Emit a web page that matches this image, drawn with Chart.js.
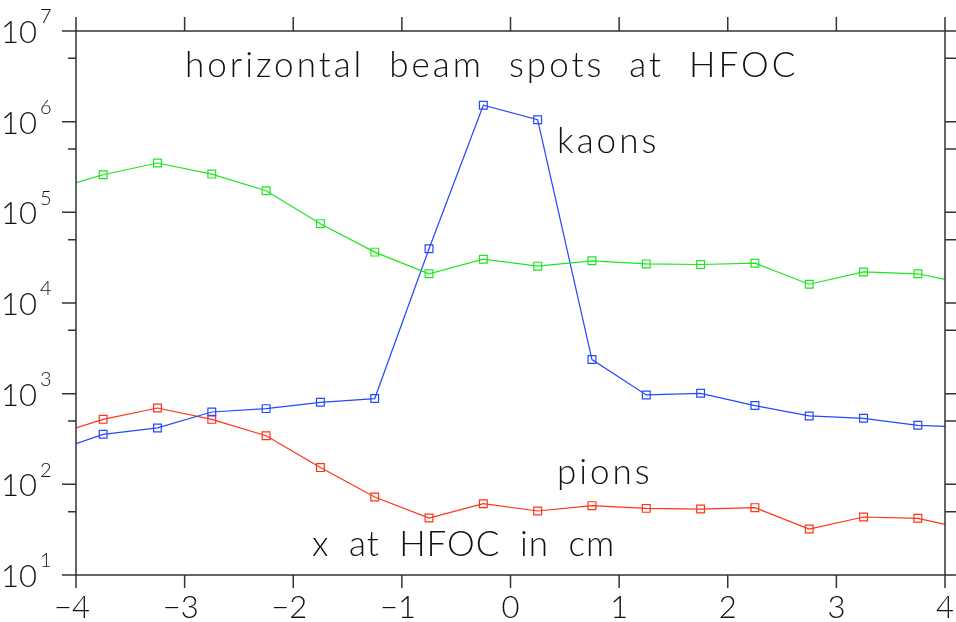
<!DOCTYPE html>
<html>
<head>
<meta charset="utf-8">
<script src="https://cdn.jsdelivr.net/npm/chart.js@4"></script>
<style>
  html, body { margin: 0; padding: 0; background: #fff; }
  #wrap { width: 956px; height: 622px; }
</style>
</head>
<body>
<div id="wrap"><canvas id="myChart" width="956" height="622"></canvas></div>
<script>
// x positions (cm at HFOC); the end values sit on the frame and carry no marker
const xPos = [-4, -3.75, -3.25, -2.75, -2.25, -1.75, -1.25, -0.75, -0.25,
  0.25, 0.75, 1.25, 1.75, 2.25, 2.75, 3.25, 3.75, 4];

// green curve (no label in the picture)
const greenVals = [2.12e5, 2.6e5, 3.5e5, 2.64e5, 1.73e5, 7.5e4, 3.64e4, 2.1e4, 3.04e4,
  2.55e4, 2.92e4, 2.7e4, 2.66e4, 2.75e4, 1.61e4, 2.2e4, 2.1e4, 1.82e4];
// kaons (blue)
const kaonVals = [281, 356, 419, 628, 684, 803, 883, 3.96e4, 1.52e6,
  1.05e6, 2377, 968, 1009, 739, 568, 535, 448, 436];
// pions (red)
const pionVals = [419, 521, 695, 521, 344, 153, 72.4, 42.5, 61.2,
  50.8, 58.2, 54.3, 53.4, 55.3, 32.1, 43.6, 42.2, 36.1];

const xTicks = [-4, -3, -2, -1, 0, 1, 2, 3, 4];
const yExp = [1, 2, 3, 4, 5, 6, 7];
const yMinor = [50, 500, 5000, 5e4, 5e5, 5e6];

const FONT = '"Lato", "DejaVu Sans", sans-serif';

function pts(vals) {
  return vals.map(function (v, i) { return { x: xPos[i], y: v }; });
}
function radii() {
  return xPos.map(function (x, i) { return (i == 0 || i == xPos.length - 1) ? 0 : 5.5; });
}
function makeSet(label, vals, color) {
  return {
    label: label,
    data: pts(vals),
    borderColor: color,
    backgroundColor: 'transparent',
    borderWidth: 1.2,
    pointStyle: 'rect',
    pointRadius: radii(),
    pointBorderWidth: 1.2,
    pointBorderColor: color,
    tension: 0
  };
}

// frame, ticks and texts drawn from the scales
var frame = {
  id: 'frame',
  afterDraw: function (chart) {
    var ctx = chart.ctx;
    var a = chart.chartArea;
    var xs = chart.scales.x, ys = chart.scales.y;
    ctx.save();
    ctx.strokeStyle = '#333';
    ctx.lineWidth = 1.5;
    ctx.strokeRect(a.left, a.top, a.right - a.left, a.bottom - a.top);

    ctx.beginPath();
    xTicks.forEach(function (t) {
      var px = xs.getPixelForValue(t);
      ctx.moveTo(px, a.top); ctx.lineTo(px, a.top - 14);
      ctx.moveTo(px, a.bottom); ctx.lineTo(px, a.bottom + 13);
    });
    yExp.forEach(function (e) {
      var py = ys.getPixelForValue(Math.pow(10, e));
      ctx.moveTo(a.left, py); ctx.lineTo(a.left - 14, py);
      ctx.moveTo(a.right, py); ctx.lineTo(a.right + 14, py);
    });
    yMinor.forEach(function (v) {
      var py = ys.getPixelForValue(v);
      ctx.moveTo(a.left, py); ctx.lineTo(a.left - 8, py);
      ctx.moveTo(a.right, py); ctx.lineTo(a.right + 14, py);
    });
    ctx.stroke();

    ctx.fillStyle = '#111';
    ctx.textBaseline = 'middle';
    // x tick labels
    ctx.font = '300 31px ' + FONT;
    ctx.textAlign = 'center';
    xTicks.forEach(function (t) {
      var px = xs.getPixelForValue(t);
      var s = t < 0 ? '\u2212' + Math.abs(t) : String(t);
      ctx.fillText(s, px - (t < 0 ? 4 : 0), a.bottom + 33);
    });
    // y tick labels 10^n
    yExp.forEach(function (e) {
      var py = ys.getPixelForValue(Math.pow(10, e));
      ctx.font = '300 31px ' + FONT;
      ctx.textAlign = 'right';
      ctx.fillText('10', 37, py + 2);
      ctx.font = '300 20px ' + FONT;
      ctx.textAlign = 'left';
      ctx.fillText(String(e), 40, py - 14);
    });

    // texts inside the plot
    ctx.font = '300 35px ' + FONT;
    ctx.textAlign = 'left';
    ctx.letterSpacing = '3px';
    ctx.fillText('horizontal  beam  spots  at  HFOC', 185, 66);
    ctx.fillText('kaons', 557, 142);
    ctx.fillText('pions', 557, 473);
    ctx.letterSpacing = '1px';
    ctx.wordSpacing = '9px';
    ctx.fillText('x at HFOC in cm', 312, 545);
    ctx.restore();
  }
};

new Chart(document.getElementById('myChart'), {
  type: 'line',
  data: {
    datasets: [
      makeSet('green', greenVals, '#1ee61e'),
      makeSet('kaons', kaonVals, '#2448ff'),
      makeSet('pions', pionVals, '#ff3319')
    ]
  },
  options: {
    responsive: false,
    animation: false,
    layout: { padding: { left: 76, right: 11, top: 31, bottom: 47 } },
    plugins: { legend: { display: false }, tooltip: { enabled: false } },
    scales: {
      x: { type: 'linear', min: -4, max: 4, display: false },
      y: { type: 'logarithmic', min: 10, max: 1e7, display: false }
    }
  },
  plugins: [frame]
});
</script>
</body>
</html>
